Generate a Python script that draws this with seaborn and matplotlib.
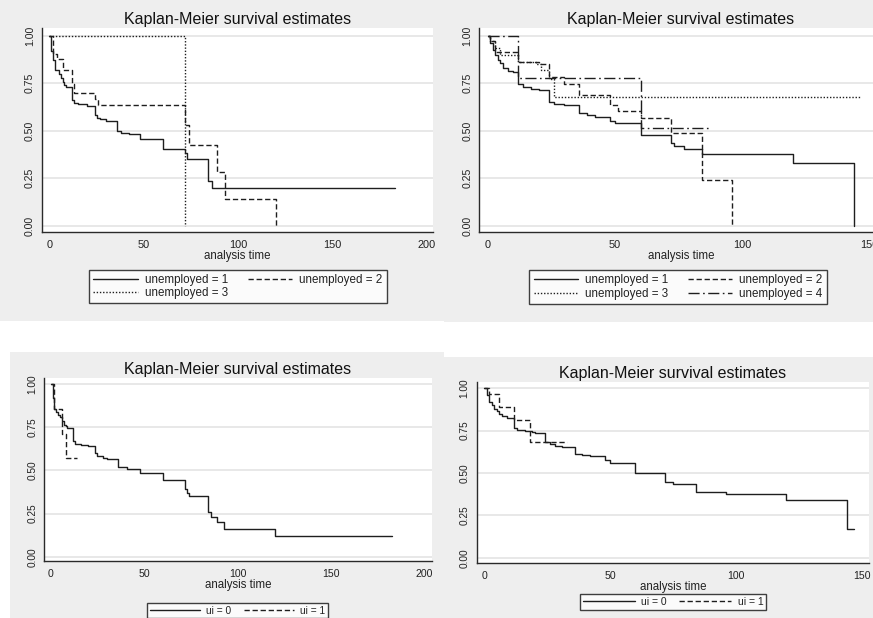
import matplotlib
matplotlib.use("Agg")
import matplotlib.pyplot as plt
from matplotlib.patches import Rectangle
import seaborn as sns

# ---------------- data ----------------
TITLE = "Kaplan-Meier survival estimates"
XLABEL = "analysis time"
YTICKS = [0.0, 0.25, 0.5, 0.75, 1.0]
YTICKLABELS = ["0.00", "0.25", "0.50", "0.75", "1.00"]

# Panel A (top-left): unemployed groups
a_labels = ["unemployed = 1", "unemployed = 2", "unemployed = 3"]
a1_t = [0, 1, 2, 3, 5, 6, 7, 8, 9, 12, 13, 15, 20, 24, 25, 27, 30, 36, 38, 42, 48, 60, 72, 73, 84, 86, 183]
a1_s = [1.0, 0.922, 0.872, 0.817, 0.796, 0.775, 0.755, 0.742, 0.73, 0.663, 0.648, 0.638, 0.631,
        0.58, 0.568, 0.56, 0.55, 0.50, 0.49, 0.482, 0.457, 0.404, 0.383, 0.353, 0.234, 0.197, 0.197]
a2_t = [0, 2, 4, 7, 12, 13, 24, 26, 72, 74, 89, 93, 120]
a2_s = [1.0, 0.906, 0.875, 0.818, 0.745, 0.697, 0.665, 0.636, 0.53, 0.424, 0.283, 0.141, 0.0]
a3_t = [0, 72]
a3_s = [1.0, 0.0]
a_xticks = [0, 50, 100, 150, 200]

# Panel B (top-right): unemployed groups
b_labels = ["unemployed = 1", "unemployed = 2", "unemployed = 3", "unemployed = 4"]
b1_t = [0, 1, 2, 3, 4, 5, 6, 8, 10, 12, 14, 17, 20, 24, 26, 30, 36, 39, 42, 48, 50, 60, 72, 73, 77, 84, 120, 144]
b1_s = [1.0, 0.961, 0.926, 0.90, 0.874, 0.856, 0.83, 0.816, 0.807, 0.747, 0.73, 0.72, 0.712, 0.651,
        0.64, 0.633, 0.594, 0.584, 0.574, 0.553, 0.538, 0.477, 0.435, 0.42, 0.405, 0.375, 0.33, 0.0]
b2_t = [0, 1, 3, 12, 20, 24, 30, 36, 48, 51, 60, 72, 84, 96]
b2_s = [1.0, 0.97, 0.915, 0.86, 0.852, 0.784, 0.746, 0.688, 0.635, 0.605, 0.565, 0.486, 0.243, 0.0]
b3_t = [0, 1, 3, 5, 12, 19, 21, 24, 26, 146]
b3_s = [1.0, 0.97, 0.935, 0.90, 0.86, 0.85, 0.82, 0.77, 0.675, 0.675]
b4_t = [0, 12, 60, 87]
b4_s = [1.0, 0.776, 0.516, 0.516]
b_xticks = [0, 50, 100, 150]

# Panel C (bottom-left): ui groups
c_labels = ["ui = 0", "ui = 1"]
c0_t = [0, 1, 2, 3, 4, 5, 6, 7, 8, 9, 12, 13, 16, 20, 24, 25, 28, 30, 36, 41, 48, 60, 72, 73, 74,
        84, 86, 89, 93, 120, 183]
c0_s = [1.0, 0.923, 0.857, 0.84, 0.82, 0.81, 0.785, 0.765, 0.755, 0.745, 0.67, 0.655, 0.648, 0.643,
        0.60, 0.585, 0.575, 0.565, 0.52, 0.51, 0.485, 0.445, 0.39, 0.37, 0.35, 0.26, 0.23, 0.20,
        0.158, 0.12, 0.12]
c1_t = [0, 2, 6, 8, 14]
c1_s = [1.0, 0.857, 0.714, 0.571, 0.571]
c_xticks = [0, 50, 100, 150, 200]

# Panel D (bottom-right): ui groups
d_labels = ["ui = 0", "ui = 1"]
d0_t = [0, 1, 2, 3, 4, 5, 6, 7, 9, 12, 13, 16, 19, 20, 24, 26, 28, 31, 36, 39, 42, 48, 50, 60,
        72, 75, 84, 96, 120, 144, 147]
d0_s = [1.0, 0.96, 0.92, 0.90, 0.88, 0.865, 0.85, 0.835, 0.822, 0.765, 0.755, 0.745, 0.74, 0.735,
        0.68, 0.67, 0.66, 0.655, 0.61, 0.605, 0.60, 0.575, 0.56, 0.50, 0.445, 0.435, 0.39, 0.375,
        0.34, 0.17, 0.17]
d1_t = [0, 2, 6, 12, 18, 33]
d1_s = [1.0, 0.965, 0.89, 0.815, 0.68, 0.68]
d_xticks = [0, 50, 100, 150]

# ---------------- styling ----------------
sns.set_style("white")
plt.rcParams["font.family"] = ["Liberation Sans", "DejaVu Sans"]

W, H = 873, 618
fig = plt.figure(figsize=(W / 100, H / 100), dpi=100)
fig.patch.set_facecolor("white")

PANEL_BG = "#EEEEEE"
LINE_C = "#1e1e1e"
STYLES = {
    "solid": "-",
    "dash": (0, (3.8, 2.0)),
    "dot": (0, (1.0, 1.3)),
    "dashdot": (0, (8, 2.5, 1.2, 2.5)),
}


def px_rect(l, t, r, b):
    return [l / W, (H - b) / H, (r - l) / W, (b - t) / H]


def bg(l, t, r, b):
    fig.patches.append(Rectangle((l / W, (H - b) / H), (r - l) / W, (b - t) / H,
                                 transform=fig.transFigure, facecolor=PANEL_BG,
                                 edgecolor="none", zorder=-10))


bg(0, 0, 444, 320.7)
bg(444, 0, 873, 321.7)
bg(10, 352.3, 444, 618)
bg(444, 356.7, 873, 618)


def panel(rect, xlim, ylim, xticks, series, labels, leg_center, leg_kw, tick_fs, leg_fs,
          xlabelpad=0.5):
    ax = fig.add_axes(px_rect(*rect))
    ax.set_facecolor("white")
    for (t, s, st) in series:
        sns.lineplot(x=t, y=s, ax=ax, drawstyle="steps-post", color=LINE_C, lw=1.0,
                     linestyle=STYLES[st], estimator=None, errorbar=None, sort=False,
                     legend=False)
    ax.set_xlim(*xlim)
    ax.set_ylim(*ylim)
    ax.set_xticks(xticks)
    ax.set_xticklabels([str(v) for v in xticks], fontsize=tick_fs)
    ax.set_yticks(YTICKS)
    ax.set_yticklabels(YTICKLABELS, fontsize=tick_fs - 0.3, rotation=90, va="center")
    ax.grid(axis="y", color="#E1E1E1", lw=1.1)
    ax.grid(axis="x", visible=False)
    ax.set_axisbelow(True)
    for side in ["top", "right"]:
        ax.spines[side].set_visible(False)
    for side in ["left", "bottom"]:
        ax.spines[side].set_color("#2a2a2a")
        ax.spines[side].set_linewidth(1.0)
    ax.tick_params(axis="both", direction="out", length=3, width=0.8, color="#2a2a2a",
                   labelcolor="#222222")
    ax.tick_params(axis="x", pad=2.5)
    ax.tick_params(axis="y", pad=2)
    ax.set_xlabel(XLABEL, fontsize=8.3, labelpad=xlabelpad, color="#222222")
    ax.set_ylabel("")
    ax.set_title(TITLE, fontsize=11.5, pad=3, color="#111111")
    lines = ax.get_lines()
    order = leg_kw.pop("order")
    handles = [lines[i] for i in order]
    labs = [labels[i] for i in order]
    leg = ax.legend(handles, labs, loc="center",
                    bbox_to_anchor=(leg_center[0] / W, (H - leg_center[1]) / H),
                    bbox_transform=fig.transFigure, frameon=True, fancybox=False,
                    edgecolor="#111111", fontsize=leg_fs, borderaxespad=0, **leg_kw)
    leg.get_frame().set_linewidth(1.0)
    leg.get_frame().set_facecolor("white")
    for txt in leg.get_texts():
        txt.set_color("#222222")
    return ax


# Panel A
panel((42, 28, 433, 232), (-3.9, 203.3), (-0.0332, 1.0405), a_xticks,
      [(a1_t, a1_s, "solid"), (a2_t, a2_s, "dash"), (a3_t, a3_s, "dot")],
      a_labels, (238, 286.5),
      dict(order=[0, 2, 1], ncol=2, handlelength=3.8, handletextpad=0.6,
           columnspacing=1.7, borderpad=0.35, labelspacing=0.15),
      7.9, 8.4)

# Panel B
panel((479.3, 28, 882.5, 232), (-3.3, 155), (-0.0332, 1.0405), b_xticks,
      [(b1_t, b1_s, "solid"), (b2_t, b2_s, "dash"), (b3_t, b3_s, "dot"), (b4_t, b4_s, "dashdot")],
      b_labels, (678, 287),
      dict(order=[0, 2, 1, 3], ncol=2, handlelength=3.8, handletextpad=0.6,
           columnspacing=1.7, borderpad=0.35, labelspacing=0.15),
      7.9, 8.4)

# Panel C
panel((44.3, 377.7, 431.7, 561), (-3.4, 204), (-0.025, 1.038), c_xticks,
      [(c0_t, c0_s, "solid"), (c1_t, c1_s, "dash")],
      c_labels, (237.5, 610.5),
      dict(order=[0, 1], ncol=2, handlelength=5.0, handletextpad=0.6,
           columnspacing=1.2, borderpad=0.2, labelspacing=0.1),
      7.6, 7.3)

# Panel D
panel((476.7, 382.3, 869, 563.3), (-3.0, 152.9), (-0.033, 1.035), d_xticks,
      [(d0_t, d0_s, "solid"), (d1_t, d1_s, "dash")],
      d_labels, (673, 602),
      dict(order=[0, 1], ncol=2, handlelength=5.0, handletextpad=0.6,
           columnspacing=1.2, borderpad=0.3, labelspacing=0.1),
      7.6, 7.5, xlabelpad=0)

fig.savefig("out.png", dpi=100, facecolor="white")
